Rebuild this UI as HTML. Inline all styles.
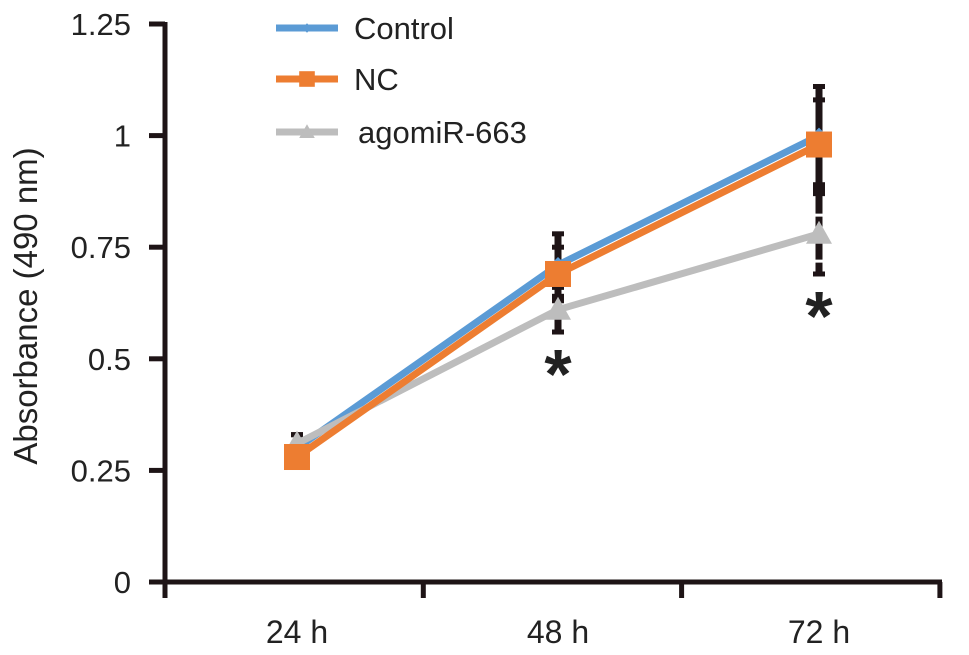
<!DOCTYPE html>
<html><head><meta charset="utf-8"><style>
body{margin:0;background:#fff;}
svg text{font-family:"Liberation Sans",Arial,sans-serif;fill:#222;}
</style></head><body>
<svg id="chart" width="969" height="650" viewBox="0 0 969 650" xmlns="http://www.w3.org/2000/svg">
<g id="axes"></g>
<g id="series"></g>
<g id="legend"></g>
<text transform="translate(37,306) rotate(-90)" text-anchor="middle" font-size="33">Absorbance (490 nm)</text>
</svg>
<script>
const categories=["24 h","48 h","72 h"];
const yTicks=[0,0.25,0.5,0.75,1,1.25];
const yTickLabels=["0","0.25","0.5","0.75","1","1.25"];
const seriesNames=["Control","NC","agomiR-663"];
const controlValues=[0.30,0.71,1.00];
const ncValues=[0.28,0.69,0.98];
const agoValues=[0.31,0.61,0.78];
const controlErr=[0.03,0.07,0.11];
const ncErr=[0.02,0.06,0.10];
const agoErr=[0.02,0.05,0.09];
const sigMarks=[false,true,true];

const NS="http://www.w3.org/2000/svg";
const X0=165,X1=940,Y0=582,Y125=24;
function y(v){return Y0-(Y0-Y125)*v/1.25;}
const step=261;
function x(i){return 297+step*i;}
function mk(tag,attrs,parent){const e=document.createElementNS(NS,tag);for(const k in attrs)e.setAttribute(k,attrs[k]);parent.appendChild(e);return e;}
const axes=document.getElementById('axes'),ser=document.getElementById('series'),leg=document.getElementById('legend');
const ax='#1e1416';
let e=mk('line',{x1:X0,y1:Y125-2,x2:X0,y2:Y0+2,stroke:ax,'stroke-width':5},axes);

e=mk('line',{x1:X0-16,y1:Y0,x2:X1+2,y2:Y0,stroke:ax,'stroke-width':5},axes);

yTicks.forEach((v,i)=>{
 let t=mk('line',{x1:X0-16,y1:y(v),x2:X0,y2:y(v),stroke:ax,'stroke-width':5},axes);
 
 let l=mk('text',{x:X0-34,y:y(v)+11,'text-anchor':'end','font-size':31},axes);l.textContent=yTickLabels[i];
 
});
for(let i=0;i<=3;i++){
 let t=mk('line',{x1:X0+258.3*i,y1:Y0,x2:X0+258.3*i,y2:Y0+16,stroke:ax,'stroke-width':5},axes);
 
}
categories.forEach((c,i)=>{
 let l=mk('text',{x:x(i),y:643,'text-anchor':'middle','font-size':32},axes);l.textContent=c;
 
});
const defs=[{vals:controlValues,err:controlErr,col:'#5b9bd5',m:'diamond'},{vals:ncValues,err:ncErr,col:'#ed7d31',m:'square'},{vals:agoValues,err:agoErr,col:'#bdbdbd',m:'triangle'}];
defs.forEach((d,si)=>{d.vals.forEach((v,i)=>{
 let b=mk('line',{x1:x(i),y1:y(v+d.err[i]),x2:x(i),y2:y(v-d.err[i]),stroke:ax,'stroke-width':7,'stroke-dasharray':'20 3'},ser);
 
 [v+d.err[i],v-d.err[i]].forEach(w=>{let c=mk('line',{x1:x(i)-6,y1:y(w),x2:x(i)+6,y2:y(w),stroke:ax,'stroke-width':5},ser);
  });
});});
function marker(type,cx,cy,col,parent,s){
 s=s||1;let e;
 if(type==='square')e=mk('rect',{x:cx-13*s,y:cy-13*s,width:26*s,height:26*s,fill:col},parent);
 else if(type==='triangle')e=mk('polygon',{points:`${cx},${cy-13*s} ${cx+13*s},${cy+10*s} ${cx-13*s},${cy+10*s}`,fill:col},parent);
 else e=mk('polygon',{points:`${cx},${cy-8*s} ${cx+8*s},${cy} ${cx},${cy+8*s} ${cx-8*s},${cy}`,fill:col},parent);
 return e;
}
[0,2,1].forEach(si=>{const d=defs[si];
 let p=mk('polyline',{points:d.vals.map((v,i)=>x(i)+','+y(v)).join(' '),fill:'none',stroke:d.col,'stroke-width':7,'stroke-linejoin':'round'},ser);
 
 d.vals.forEach((v,i)=>{let m=marker(d.m,x(i),y(v),d.col,ser);
  });
});
sigMarks.forEach((s,i)=>{if(!s)return;
 const v=Math.min(agoValues[i]-agoErr[i],ncValues[i]-ncErr[i]);
 let t=mk('text',{x:x(i),y:y(v)+66,'text-anchor':'middle','font-size':70,'font-weight':'bold'},ser);t.textContent='*';
 
});
const legY=[28,79,132];
defs.forEach((d,si)=>{
 let l=mk('line',{x1:276,y1:legY[si],x2:338,y2:legY[si],stroke:d.col,'stroke-width':7},leg);
 
 let m=marker(d.m,307,legY[si],d.col,leg,0.6);
 
 let t=mk('text',{x:si==2?358:354,y:legY[si]+11,'font-size':31},leg);t.textContent=seriesNames[si];
 
});
</script>
</body></html>
